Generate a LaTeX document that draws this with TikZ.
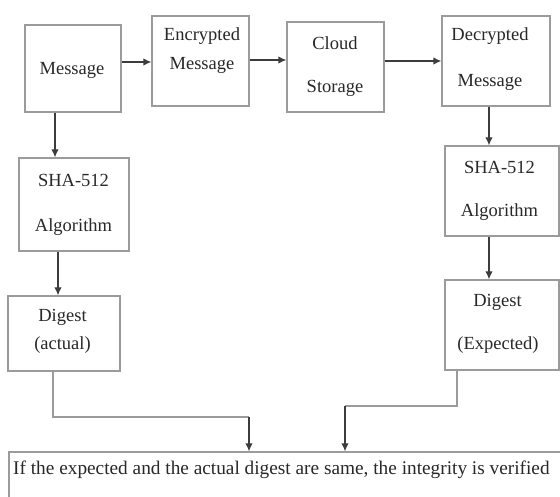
\documentclass[tikz,border=0pt]{standalone}
\usepackage{fontspec}
\setmainfont{Liberation Serif}
\usetikzlibrary{arrows.meta}
\definecolor{boxgray}{RGB}{155,155,155}
\definecolor{linegray}{RGB}{60,60,60}
\definecolor{txtgray}{RGB}{40,40,40}
\begin{document}
\begin{tikzpicture}[x=1pt,y=-1pt,
  box/.style={draw=boxgray,line width=1.3pt,fill=white,inner sep=0pt,rectangle},
  lbl/.style={text=txtgray,font=\fontsize{18.5}{21}\selectfont,align=center,inner sep=0pt},
  arr/.style={draw=linegray,line width=1.3pt,-{Latex[length=8pt,width=7.5pt]}},
  conn/.style={draw=boxgray,line width=1.3pt}]
\useasboundingbox (0,0) rectangle (560,497);
\clip (0,0) rectangle (560,497);
% boxes
\node[box,minimum width=96pt,minimum height=87pt] (msg) at (73,68.5) {};
\node[box,minimum width=97pt,minimum height=90pt] (enc) at (200.5,61) {};
\node[box,minimum width=97pt,minimum height=90pt] (cld) at (335.5,67) {};
\node[box,minimum width=108pt,minimum height=90pt] (dec) at (496,61) {};
\node[box,minimum width=110pt,minimum height=93pt] (shaL) at (74,204.5) {};
\node[box,minimum width=112pt,minimum height=75pt] (digL) at (64,333.5) {};
\node[box,minimum width=114pt,minimum height=90pt] (shaR) at (502,191) {};
\node[box,minimum width=114pt,minimum height=90pt] (digR) at (502,325) {};
\node[box,minimum width=556pt,minimum height=55pt] (res) at (287,479.5) {};
% labels
\node[lbl] (msgT) at (72,70) {Message};
\node[lbl] (encT1) at (202,36) {Encrypted};
\node[lbl] (encT2) at (202,65) {Message};
\node[lbl] (cldT1) at (335,43) {Cloud};
\node[lbl] (cldT2) at (335,88) {Storage};
\node[lbl] (decT1) at (490,36) {Decrypted};
\node[lbl] (decT2) at (490,82) {Message};
\node[lbl] (shaLT1) at (73.5,180) {SHA-512};
\node[lbl] (shaLT2) at (73.5,227) {Algorithm};
\node[lbl] (digLT1) at (62.5,317) {Digest};
\node[lbl] (digLT2) at (62.5,345) {(actual)};
\node[lbl] (shaRT1) at (499.5,167) {SHA-512};
\node[lbl] (shaRT2) at (499.5,212) {Algorithm};
\node[lbl] (digRT1) at (497.5,302) {Digest};
\node[lbl] (digRT2) at (498,345) {(Expected)};
\node[lbl,anchor=west,font=\fontsize{19.3}{22}\selectfont] (resT) at (13,470)
  {If the expected and the actual digest are same, the integrity is verified};
% horizontal arrows
\draw[arr] (msg.east |- 0,62) -- (enc.west |- 0,62);
\draw[arr] (enc.east |- 0,60) -- (cld.west |- 0,60);
\draw[arr] (cld.east |- 0,61) -- (dec.west |- 0,61);
% vertical arrows
\draw[arr] (msg.south -| 55,0) -- (shaL.north -| 55,0);
\draw[arr] (shaL.south -| 58,0) -- (digL.north -| 58,0);
\draw[arr] (dec.south -| 489,0) -- (shaR.north -| 489,0);
\draw[arr] (shaR.south -| 489,0) -- (digR.north -| 489,0);
% connectors to result
\coordinate (bendL) at (53,417);
\coordinate (bendR) at (457,406);
\draw[conn] (digL.south -| bendL) -- (bendL) -- (249,417);
\draw[arr] (249,417) -- (res.north -| 249,0);
\draw[conn] (digR.south -| bendR) -- (bendR) -- (345,406);
\draw[arr] (345,406) -- (res.north -| 345,0);
\end{tikzpicture}
\end{document}
